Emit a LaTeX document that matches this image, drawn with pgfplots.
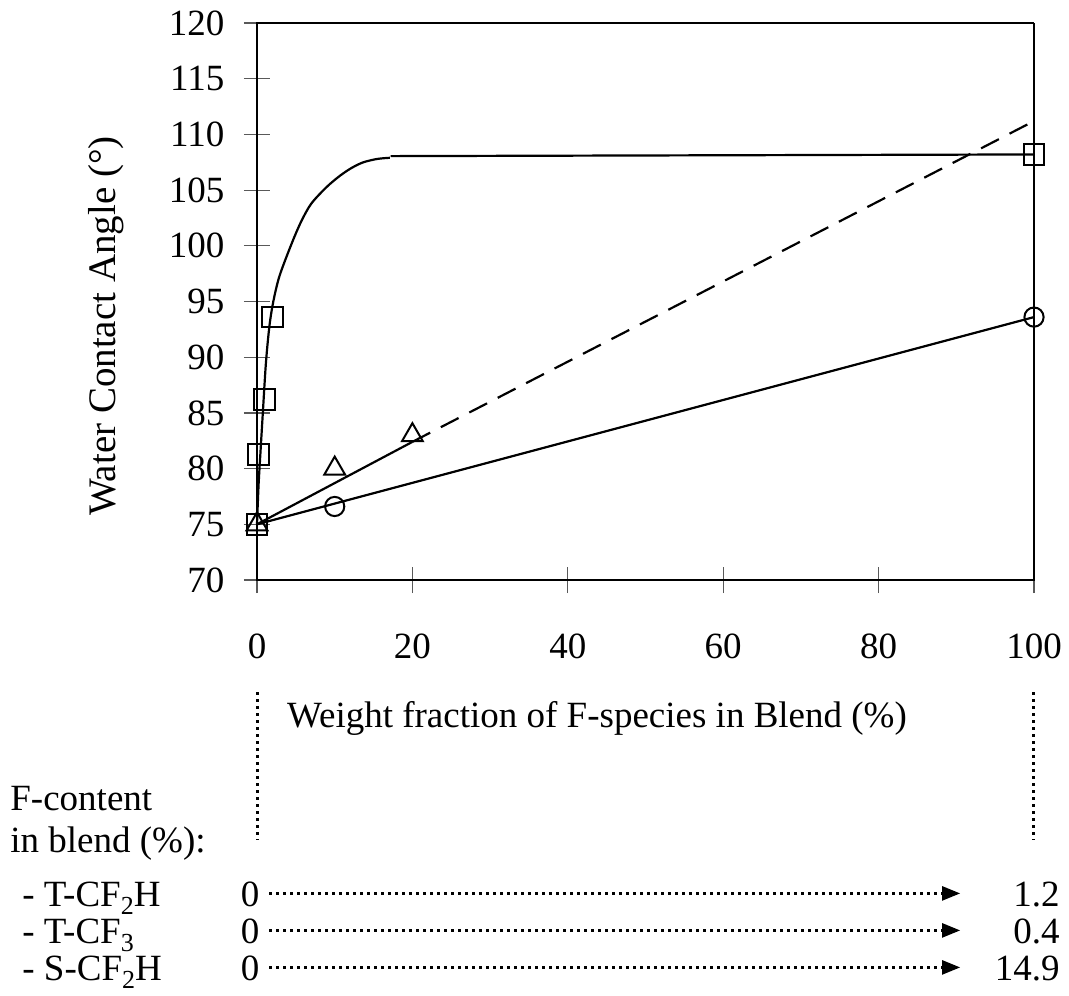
\documentclass[border=0pt]{standalone}
\usepackage{fontspec}
\setmainfont{Liberation Serif}
\usepackage{pgfplots}
\pgfplotsset{compat=1.18}
\usetikzlibrary{arrows.meta}
\newcommand{\lowsub}[1]{\raisebox{-4pt}{\fontsize{13}{13}\selectfont #1}}
\begin{document}
\fontsize{18.5}{22}\selectfont
\begin{tikzpicture}
\begin{axis}[
  at={(0pt,0pt)}, anchor=south west,
  width=388.5pt, height=278.5pt, scale only axis,
  xmin=0, xmax=100, ymin=70, ymax=120,
  xtick={0,20,...,100}, ytick={70,75,...,120},
  tick align=center, major tick length=13pt,
  xtick pos=left, ytick pos=left,
  tick style={black!65, line width=0.6pt},
  axis line style={draw=none},
  /pgf/number format/assume math mode=true,
  yticklabel style={xshift=-3.5pt},
  xticklabel style={yshift=-14pt},
  clip=false,
]
% fitted curve (square series)
\addplot[black, line width=1.1pt, smooth, no marks] coordinates {
(0,75) (0.2,78.5) (0.45,81.5) (0.75,85) (1.15,89.5) (1.6,92.8) (2.1,95)
(2.9,97.3) (4.46,100.2) (5.7,102.2) (7,103.8) (9,105.3) (10.7,106.3)
(12.2,107) (13.7,107.5) (15.5,107.8) (17.1,107.9)};
\addplot[black, line width=1.1pt, no marks] coordinates {(17.2,108.05) (100,108.2)};
% triangle series lines
\addplot[black, line width=1.1pt, no marks] coordinates {(0,75) (20,82.4)};
\addplot[black, line width=1.1pt, no marks, dash pattern=on 10pt off 6pt] coordinates {(20,82.4) (100,111.2)};
% circle series line
\addplot[black, line width=1.1pt, no marks] coordinates {(0,75) (100,93.6)};
% markers
\addplot[only marks, mark=square, mark size=5.2pt, mark options={black, line width=1pt, fill=none}] coordinates {
(0,75) (0.15,81.3) (1,86.2) (2,93.6) (100,108.2)};
\addplot[only marks, mark=triangle, mark size=6pt, mark options={black, line width=1pt, fill=none}] coordinates {
(0,75) (10,80) (20,83)};
\addplot[only marks, mark=o, mark size=4.8pt, mark options={black, line width=1pt, fill=none}] coordinates {
(10,76.6) (100,93.6)};
% frame
\draw[line width=1.3pt, line cap=rect] (rel axis cs:0,1) -- (rel axis cs:0,0) -- (rel axis cs:1,0);
\draw[line width=1.3pt] (rel axis cs:0,1) -- (rel axis cs:1,1);
\draw[line width=0.9pt] (rel axis cs:1,0) -- (rel axis cs:1,1);
\end{axis}
% axis labels
\node[rotate=90, anchor=center, font=\fontsize{19.5}{23}\selectfont] at (-75.5pt,127pt) {Water Contact Angle (°)};
\node[anchor=base] at (170pt,-73.5pt) {Weight fraction of F-species in Blend (\%)};
% dotted guides
\draw[line width=1.5pt, dash pattern=on 1.5pt off 2pt] (0pt,-56pt) -- (0pt,-130pt);
\draw[line width=1.5pt, dash pattern=on 1.5pt off 2pt] (388pt,-56pt) -- (388pt,-130pt);
% F-content table
\node[anchor=base west, inner sep=0pt] at (-123.5pt,-115pt) {F-content};
\node[anchor=base west, inner sep=0pt] at (-123.5pt,-136pt) {in blend (\%):};
\node[anchor=base west, inner sep=0pt] at (-117.5pt,-163pt) {- T-CF\lowsub{2}H};
\node[anchor=base west, inner sep=0pt] at (-117.5pt,-181.5pt) {- T-CF\lowsub{3}};
\node[anchor=base west, inner sep=0pt] at (-117.5pt,-200pt) {- S-CF\lowsub{2}H};
\foreach \yb/\v in {-163/1.2, -181.5/0.4, -200/14.9} {
  \node[anchor=base, inner sep=0pt] at (-3.5pt,\yb pt) {0};
  \draw[line width=1.4pt, dash pattern=on 1.4pt off 2.1pt] (6pt,\yb pt+6.3pt) -- (344pt,\yb pt+6.3pt);
  \fill (351.5pt,\yb pt+6.3pt) -- (342.5pt,\yb pt+10pt) -- (342.5pt,\yb pt+2.6pt) -- cycle;
  \node[anchor=base east, inner sep=0pt] at (401.5pt,\yb pt) {\v};
}
\pgfresetboundingbox
\useasboundingbox (-128.5pt,-207.5pt) rectangle (406pt,290pt);
\end{tikzpicture}
\end{document}
